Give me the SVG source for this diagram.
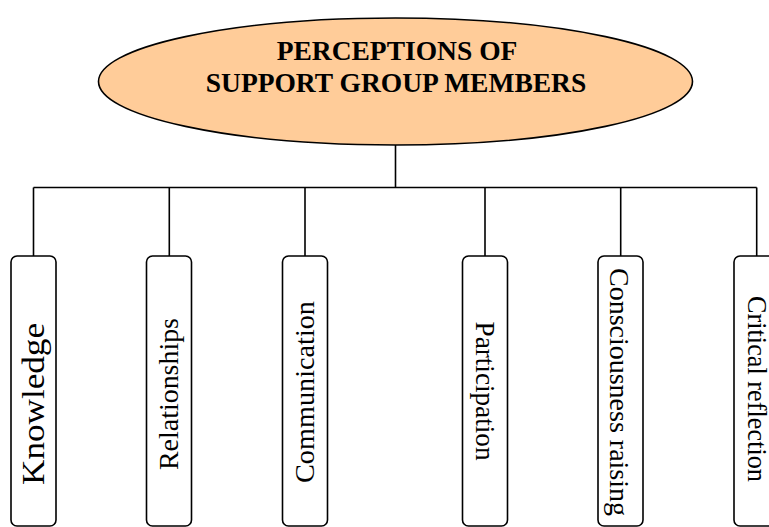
<svg xmlns="http://www.w3.org/2000/svg" width="769" height="527" viewBox="0 0 769 527">
<style>
.box{fill:#ffffff;stroke:#000;stroke-width:1.6}
.lbl{font-family:"Liberation Serif","Times New Roman",serif;font-size:28px;fill:#000;text-anchor:middle}
.title{font-family:"Liberation Serif","Times New Roman",serif;font-size:27.5px;font-weight:bold;fill:#000;text-anchor:middle}
.conn{fill:none;stroke:#000;stroke-width:1.6}
</style>
<rect width="769" height="527" fill="#ffffff"/>
<g id="connectors">
<path class="conn" d="M395.5,145 V187.5 M33.5,187.5 H756.7 M33.5,187.5 V256 M169.3,187.5 V256 M305,187.5 V256 M485,187.5 V256 M620.7,187.5 V256 M756.7,187.5 V256"/>
</g>
<g id="root">
<ellipse cx="395.5" cy="81.5" rx="297" ry="63.5" fill="#ffcc99" stroke="#000" stroke-width="1.6"/>
<text class="title" x="397" y="60">PERCEPTIONS OF</text>
<text class="title" x="396" y="92">SUPPORT GROUP MEMBERS</text>
</g>
<g id="knowledge">
<rect class="box" x="11" y="256" width="45" height="270" rx="6"/>
<text class="lbl" style="font-size:31px" transform="translate(44,404) rotate(-90)" textLength="162" lengthAdjust="spacingAndGlyphs">Knowledge</text>
</g>
<g id="relationships">
<rect class="box" x="146.5" y="256" width="45" height="270" rx="6"/>
<text class="lbl" transform="translate(178,394) rotate(-90)" textLength="152" lengthAdjust="spacingAndGlyphs">Relationships</text>
</g>
<g id="communication">
<rect class="box" x="282.5" y="256" width="45" height="270" rx="6"/>
<text class="lbl" transform="translate(314,392) rotate(-90)" textLength="182" lengthAdjust="spacingAndGlyphs">Communication</text>
</g>
<g id="participation">
<rect class="box" x="462.5" y="256" width="45" height="270" rx="6"/>
<text class="lbl" transform="translate(476,391) rotate(90)" textLength="139" lengthAdjust="spacingAndGlyphs">Participation</text>
</g>
<g id="consciousness-raising">
<rect class="box" x="598" y="256" width="45" height="270" rx="6"/>
<text class="lbl" transform="translate(610,392) rotate(90)" textLength="248" lengthAdjust="spacingAndGlyphs">Consciousness raising</text>
</g>
<g id="critical-reflection">
<rect class="box" x="734" y="256" width="45" height="270" rx="6"/>
<text class="lbl" transform="translate(748,389) rotate(90)" textLength="186" lengthAdjust="spacingAndGlyphs">Critical reflection</text>
</g>
</svg>
